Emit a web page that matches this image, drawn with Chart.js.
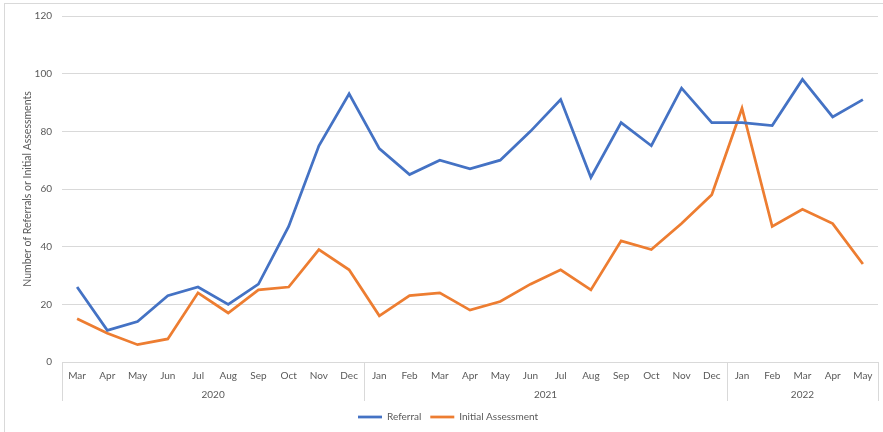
<!DOCTYPE html>
<html>
<head>
<meta charset="utf-8">
<script src="https://cdn.jsdelivr.net/npm/chart.js@4/dist/chart.umd.min.js"></script>
<style>
  html, body { margin: 0; padding: 0; background: #fff; }
  #wrap { width: 883px; height: 432px; position: relative; }
</style>
</head>
<body>
<div id="wrap"><canvas id="c" width="883" height="432"></canvas></div>
<script>
const months = ["Mar","Apr","May","Jun","Jul","Aug","Sep","Oct","Nov","Dec",
                "Jan","Feb","Mar","Apr","May","Jun","Jul","Aug","Sep","Oct","Nov","Dec",
                "Jan","Feb","Mar","Apr","May"];
const years = ["2020","2020","2020","2020","2020","2020","2020","2020","2020","2020",
               "2021","2021","2021","2021","2021","2021","2021","2021","2021","2021","2021","2021",
               "2022","2022","2022","2022","2022"];
const referral = [26,11,14,23,26,20,27,47,75,93,
                  74,65,70,67,70,80,91,64,83,75,95,83,
                  83,82,98,85,91];
const initialAssessment = [15,10,6,8,24,17,25,26,39,32,
                           16,23,24,18,21,27,32,25,42,39,48,58,
                           88,47,53,48,34];
const yTicks = { min: 0, max: 120, step: 20 };

const FONT = "Lato, 'Liberation Sans', sans-serif";
const GREY = "#595959";

const groupPlugin = {
  id: "groupAxis",
  afterLayout(chart) {
    if (chart.legend) { chart.legend.left += 7; chart.legend.right += 7; }
  },
  beforeDraw(chart) {
    const ctx = chart.ctx;
    ctx.save();
    ctx.strokeStyle = "#d9d9d9";
    ctx.lineWidth = 1;
    ctx.strokeRect(4.5, 3.5, chart.width + 10, chart.height + 10);
    ctx.restore();
  },
  afterDraw(chart) {
    const ctx = chart.ctx;
    const xs = chart.scales.x;
    const area = chart.chartArea;
    const bottom = area.bottom;
    ctx.save();
    ctx.strokeStyle = "#d9d9d9";
    ctx.lineWidth = 1;
    const bounds = [area.left];
    const groups = [];
    let start = 0;
    for (let i = 1; i <= years.length; i++) {
      if (i === years.length || years[i] !== years[start]) {
        const edge = i === years.length ? area.right
          : (xs.getPixelForValue(i - 1) + xs.getPixelForValue(i)) / 2;
        groups.push({ label: years[start], l: bounds[bounds.length - 1], r: edge });
        bounds.push(edge);
        start = i;
      }
    }
    bounds.forEach(b => {
      const x = Math.round(b) + 0.5;
      ctx.beginPath();
      ctx.moveTo(x, bottom);
      ctx.lineTo(x, bottom + 39);
      ctx.stroke();
    });
    ctx.fillStyle = GREY;
    ctx.font = "10px " + FONT;
    ctx.textAlign = "center";
    ctx.textBaseline = "middle";
    groups.forEach(g => ctx.fillText(g.label, (g.l + g.r) / 2, bottom + 33));
    ctx.restore();
  }
};

new Chart(document.getElementById("c"), {
  type: "line",
  data: {
    labels: months,
    datasets: [
      { label: "Referral", data: referral, borderColor: "#4472C4", backgroundColor: "#4472C4",
        borderWidth: 2.75, pointRadius: 0, tension: 0, pointStyle: "line" },
      { label: "Initial Assessment", data: initialAssessment, borderColor: "#ED7D31", backgroundColor: "#ED7D31",
        borderWidth: 2.75, pointRadius: 0, tension: 0, pointStyle: "line" }
    ]
  },
  options: {
    responsive: false,
    animation: false,
    layout: { padding: { left: 4, right: 5, top: 16, bottom: 0 } },
    plugins: {
      legend: {
        position: "bottom",
        labels: {
          usePointStyle: true,
          pointStyleWidth: 24,
          boxHeight: 10,
          color: GREY,
          font: { family: FONT, size: 10 },
          padding: 9
        }
      },
      tooltip: { enabled: false }
    },
    scales: {
      x: {
        offset: true,
        grid: { display: false, drawTicks: false },
        border: { display: false },
        ticks: { color: GREY, font: { family: FONT, size: 10 }, padding: 8, maxRotation: 0, autoSkip: false },
        afterFit(scale) { scale.height = 41; }
      },
      y: {
        min: yTicks.min, max: yTicks.max,
        ticks: { stepSize: yTicks.step, color: GREY, font: { family: FONT, size: 10 }, padding: 10 },
        grid: { color: "#d9d9d9", drawTicks: false, lineWidth: 1 },
        border: { display: false },
        title: { display: true, text: "Number of Referrals or Initial Assessments", color: GREY,
                 font: { family: FONT, size: 10.5 }, padding: { top: 17, bottom: 0 } },
        afterFit(scale) { scale.width = 58; }
      }
    }
  },
  plugins: [groupPlugin]
});
</script>
</body>
</html>
